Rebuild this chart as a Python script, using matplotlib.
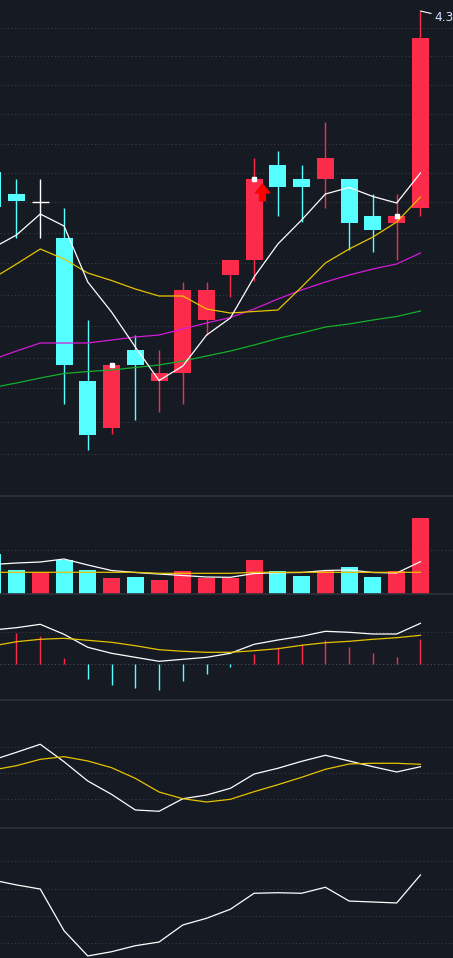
import numpy as np
import matplotlib.pyplot as plt
from matplotlib.path import Path

# candle index -1 is the one cut off at the left edge
idx = np.arange(-1, 18)
opens  = [4.048, 4.004, 3.989, 3.916, 3.630, 3.537, 3.692, 3.631, 3.647, 3.752,
          3.843, 3.872, 4.062, 4.034, 4.034, 4.034, 3.960, 3.947, 3.977]
highs  = [4.070, 4.034, 4.034, 3.976, 3.752, 3.662, 3.722, 3.692, 3.828, 3.828,
          3.872, 4.076, 4.090, 4.062, 4.148, 4.034, 4.004, 4.004, 4.370]
lows   = [3.950, 3.916, 3.916, 3.584, 3.491, 3.523, 3.552, 3.568, 3.585, 3.722,
          3.799, 3.829, 3.961, 3.948, 3.977, 3.892, 3.889, 3.872, 3.961]
closes = [3.978, 3.991, 3.989, 3.662, 3.523, 3.662, 3.662, 3.646, 3.812, 3.812,
          3.872, 4.034, 4.019, 4.019, 4.076, 3.947, 3.933, 3.960, 4.316]

ma5  = [3.896, 3.922, 3.964, 3.940, 3.828, 3.768, 3.698, 3.631, 3.660, 3.722,
        3.756, 3.838, 3.904, 3.952, 4.004, 4.017, 3.999, 3.986, 4.046]
ma10 = [3.835, 3.864, 3.894, 3.874, 3.846, 3.831, 3.814, 3.800, 3.800, 3.774,
        3.766, 3.769, 3.772, 3.818, 3.866, 3.894, 3.918, 3.948, 3.998]
ma20 = [3.673, 3.690, 3.706, 3.706, 3.706, 3.712, 3.718, 3.722, 3.734, 3.746,
        3.757, 3.774, 3.794, 3.812, 3.828, 3.842, 3.854, 3.864, 3.886]
ma60 = [3.617, 3.626, 3.636, 3.645, 3.649, 3.652, 3.657, 3.662, 3.670, 3.680,
        3.690, 3.702, 3.715, 3.726, 3.738, 3.744, 3.752, 3.759, 3.770]

mark_idx = [4, 10, 16]   # small white squares on the close
buy_idx = [10]           # red arrow

volume = [4.0, 2.4, 2.2, 3.4, 2.4, 1.6, 1.7, 1.4, 2.3, 1.6,
          1.6, 3.4, 2.3, 1.8, 2.3, 2.7, 1.7, 2.3, 7.6]
vol_ma5  = [2.95, 3.1, 3.2, 3.5, 2.9, 2.35, 2.15, 2.0, 1.85, 1.7,
            1.67, 2.05, 2.13, 2.15, 2.35, 2.4, 2.15, 2.1, 3.23]
vol_ma10 = [2.17, 2.17, 2.17, 2.17, 2.17, 2.17, 2.17, 2.07, 2.07, 2.07,
            2.07, 2.17, 2.17, 2.17, 2.17, 2.17, 2.17, 2.17, 2.17]

dif  = [0.0343, 0.0366, 0.040, 0.030, 0.017, 0.011, 0.007, 0.003, 0.005, 0.007,
        0.011, 0.020, 0.0243, 0.028, 0.033, 0.032, 0.0303, 0.0303, 0.041]
dea  = [0.0183, 0.0226, 0.025, 0.026, 0.024, 0.022, 0.0186, 0.0146, 0.013, 0.012,
        0.012, 0.0136, 0.0156, 0.019, 0.0216, 0.023, 0.025, 0.0266, 0.029]
macd = [0.032, 0.031, 0.0283, 0.0063, -0.0147, -0.0207, -0.0237, -0.0257, -0.0167, -0.0097,
        -0.0027, 0.0103, 0.0173, 0.0203, 0.0243, 0.0173, 0.0113, 0.0073, 0.0253]

k_line = [65.1, 74.1, 83.4, 63.1, 40.7, 25.2, 7.0, 5.5, 20.1, 24.4,
          32.2, 48.8, 55.5, 63.6, 70.6, 64.0, 57.3, 51.2, 57.3]
d_line = [53.5, 58.5, 65.9, 69.0, 64.0, 56.2, 43.8, 27.9, 20.1, 16.3,
          19.4, 28.3, 36.4, 45.0, 54.3, 60.5, 61.3, 61.3, 60.1]

rsi = [66.3, 62.7, 59.7, 29.2, 10.7, 13.8, 18.2, 20.9, 33.4, 38.3,
       44.9, 56.6, 57.0, 56.6, 61.0, 50.9, 50.2, 49.5, 70.0]

price_grid = [4.337, 4.281, 4.223, 4.165, 4.105, 4.047, 3.988, 3.927, 3.865, 3.803,
              3.741, 3.677, 3.615, 3.549, 3.485]

bg = '#161a22'
red = '#fc2b4c'
cyan = '#55ffff'
grid_c = '#3b3f49'
sep_c = '#30333c'

opens = np.array(opens); closes = np.array(closes)
highs = np.array(highs); lows = np.array(lows)
up = closes > opens
down = closes < opens
flat = closes == opens
cols = np.where(up, red, np.where(down, cyan, 'white'))
vol_cols = np.where(closes >= opens, red, cyan)

W, H = 453, 958
fig = plt.figure(figsize=(W / 100, H / 100), dpi=100, facecolor=bg)
edges = [0, 496, 594, 700, 828, 958]
axes = []
for top, bot in zip(edges[:-1], edges[1:]):
    ax = fig.add_axes([0, (H - bot) / H, 1, (bot - top) / H])
    ax.set_facecolor(bg)
    ax.set_xlim(-0.694, 18.37)
    ax.set_xticks([])
    ax.set_yticks([])
    for s in ax.spines.values():
        s.set_visible(False)
    axes.append(ax)
ax_k, ax_v, ax_m, ax_kdj, ax_r = axes
for ax in axes[1:]:
    ax.spines['top'].set_visible(True)
    ax.spines['top'].set_color(sep_c)
    ax.spines['top'].set_linewidth(1.2)


def dotted(ax, vals, color=grid_c):
    for v in vals:
        ax.axhline(v, color=color, lw=0.75, ls=(0, (1, 2.5)), zorder=0)


bw = 0.715

# main candles
ax_k.set_ylim(3.40, 4.392)
dotted(ax_k, price_grid)
ax_k.vlines(idx, lows, highs, colors=cols, lw=1, zorder=2)
ax_k.bar(idx[~flat], np.abs(closes - opens)[~flat], bottom=np.minimum(opens, closes)[~flat],
         width=bw, color=cols[~flat], zorder=3)
ax_k.hlines(closes[flat], idx[flat] - bw / 2, idx[flat] + bw / 2, colors='white', lw=1, zorder=3)
ax_k.plot(idx, ma60, color='#14b02c', lw=0.9, zorder=4)
ax_k.plot(idx, ma20, color='#d41ad8', lw=0.9, zorder=4)
ax_k.plot(idx, ma10, color='#e6c300', lw=0.9, zorder=4)
ax_k.plot(idx, ma5, color='white', lw=0.9, zorder=4)

mi = np.array(mark_idx)
ax_k.plot(mi, closes[mi + 1], ls='none', marker='s', ms=3, color='white', zorder=5)

arrow = Path([(-0.88, -0.06), (0, 1), (0.88, -0.06), (0.35, -0.06), (0.35, -1),
              (-0.35, -1), (-0.35, -0.06), (-0.88, -0.06)])
bi = np.array(buy_idx)
ax_k.plot(bi + 0.35, closes[bi + 1] - 0.025, ls='none', marker=arrow, ms=12,
          color='#ff0000', zorder=5)

top_i = int(np.argmax(highs))
ax_k.annotate('%.2f' % highs[top_i], xy=(idx[top_i], highs[top_i]),
              xytext=(9.7, -4.5), textcoords='offset points', ha='left', va='center',
              color='#cfe2ff', fontsize=8.8,
              arrowprops=dict(arrowstyle='-', color='white', lw=0.8, shrinkA=0, shrinkB=0))

# volume
ax_v.set_ylim(0, 9.8)
dotted(ax_v, [4.37])
ax_v.bar(idx, volume, width=bw, color=vol_cols, zorder=2)
ax_v.plot(idx, vol_ma5, color='white', lw=0.9, zorder=3)
ax_v.plot(idx, vol_ma10, color='#e6c300', lw=0.9, zorder=3)

# macd
ax_m.set_ylim(-0.0357, 0.0703)
dotted(ax_m, [0.032])
dotted(ax_m, [0], color='#50545e')
macd = np.array(macd)
ax_m.vlines(idx, 0, macd, colors=np.where(macd > 0, red, cyan), lw=1, zorder=2)
ax_m.plot(idx, dif, color='white', lw=0.9, zorder=3)
ax_m.plot(idx, dea, color='#e6c300', lw=0.9, zorder=3)

# kdj
ax_kdj.set_ylim(-13.95, 134.88)
dotted(ax_kdj, [80, 50, 20])
ax_kdj.plot(idx, k_line, color='white', lw=0.9)
ax_kdj.plot(idx, d_line, color='#e6c300', lw=0.9)

# rsi
ax_r.set_ylim(9.21, 104.38)
dotted(ax_r, [80, 60, 40, 20])
ax_r.plot(idx, rsi, color='white', lw=0.9)

fig.savefig('out.png', dpi=100, facecolor=bg)
